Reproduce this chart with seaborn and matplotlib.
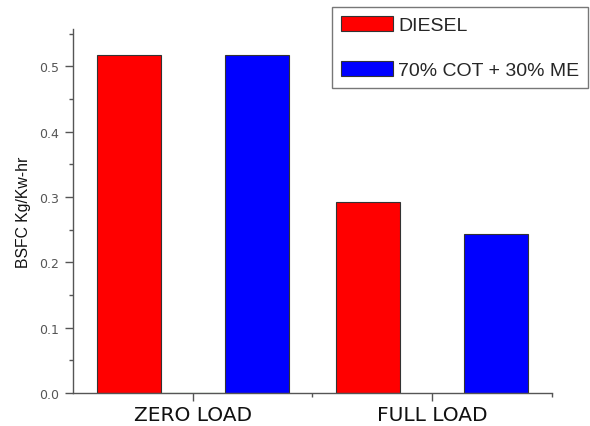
import matplotlib
matplotlib.use("Agg")
import matplotlib.pyplot as plt
import seaborn as sns
import pandas as pd
import numpy as np
from matplotlib.ticker import MultipleLocator

categories = ["ZERO LOAD", "FULL LOAD"]
series = ["DIESEL", "BLANK", "70% COT + 30% ME"]
diesel = [0.518, 0.292]
blank = [0.0, np.nan]
blend = [0.518, 0.244]
colors = ["#ff0000", "#00a000", "#0000ff"]

rows = []
for s, vals in zip(series, [diesel, blank, blend]):
    for c, v in zip(categories, vals):
        rows.append({"load": c, "fuel": s, "bsfc": v})
df = pd.DataFrame(rows)

sns.set_style("white")
plt.rcParams["font.family"] = ["Liberation Sans", "DejaVu Sans"]

fig = plt.figure(figsize=(5.9, 4.27), dpi=100)
ax = fig.add_axes([0.1237, 0.0773, 0.8119, 0.8524])

sns.barplot(data=df, x="load", y="bsfc", hue="fuel", order=categories,
            hue_order=series, palette=colors, width=0.8, saturation=1,
            edgecolor="#333333", linewidth=0.8, errorbar=None, ax=ax,
            legend=False)
# blank series: zero-height bar shows as green line only
for p in ax.containers[1]:
    p.set_edgecolor("#00a000")

ax.set_xlim(-0.5, 1.5)
ax.set_ylim(0, 0.557)
ax.yaxis.set_major_locator(MultipleLocator(0.1))
ax.yaxis.set_minor_locator(MultipleLocator(0.05))
ax.set_xticks([0, 1])
ax.set_xticks([0.5, 1.5], minor=True)
ax.set_xticklabels(categories, fontsize=14.5, family=["DejaVu Sans"], color="#111111")
yt = np.arange(0, 0.51, 0.1)
ax.set_yticks(yt)
ax.set_yticklabels([f"{v:.1f}" for v in yt], fontsize=9, family=["DejaVu Sans"], color="#555555")

for s in ["top", "right"]:
    ax.spines[s].set_visible(False)
for s in ["left", "bottom"]:
    ax.spines[s].set_color("#555555")
    ax.spines[s].set_linewidth(1.0)
ax.tick_params(axis="both", which="major", direction="out", length=6, width=1, color="#555555", pad=4)
ax.tick_params(axis="both", which="minor", direction="out", length=3, width=1, color="#555555")
ax.tick_params(axis="y", which="both", left=True)
ax.tick_params(axis="x", which="both", bottom=True)
ax.tick_params(axis="x", which="major", pad=3)

ax.set_xlabel("")
ax.set_ylabel("BSFC Kg/Kw-hr", fontsize=11.3, color="#111111", labelpad=6)

handles = [ax.containers[0][0], ax.containers[2][0]]
leg = fig.legend(handles, ["DIESEL", "70% COT + 30% ME"], loc="upper left",
                 bbox_to_anchor=(332 / 590, 1 - 8 / 427), fontsize=14,
                 frameon=True, fancybox=False, edgecolor="#555555",
                 handlelength=2.67, handleheight=0.8, labelspacing=1.4,
                 handletextpad=0.3, borderpad=0.45, borderaxespad=0)
leg.get_frame().set_linewidth(1.0)

fig.savefig("out.png", dpi=100)
